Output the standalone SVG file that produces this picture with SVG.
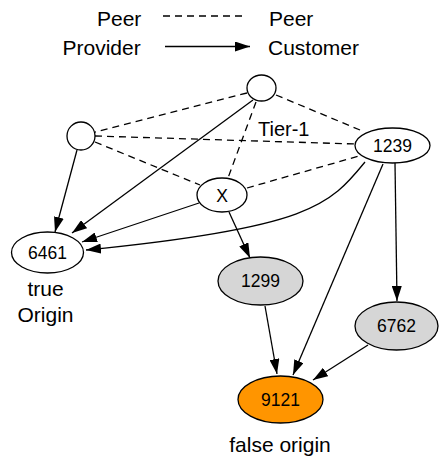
<svg xmlns="http://www.w3.org/2000/svg" width="439" height="460" viewBox="0 0 439 460">
<defs>
<marker id="arr" markerUnits="userSpaceOnUse" markerWidth="15" markerHeight="10" refX="15" refY="5" orient="auto">
<path d="M0,0 L15,5 L0,10 z" fill="#000"/>
</marker>
<style>
text{font-family:"Liberation Sans",Arial,sans-serif;fill:#000}
.lbl{font-size:21px}
.nl{font-size:17.5px;text-anchor:middle}
.node{stroke:#000;stroke-width:1.3}
.peer{stroke:#000;stroke-width:1.3;stroke-dasharray:7,5;fill:none}
.pc{stroke:#000;stroke-width:1.3;fill:none;marker-end:url(#arr)}
</style>
</defs>
<rect width="439" height="460" fill="#fff"/>
<g id="legend">
<text class="lbl" x="97" y="25.5">Peer</text>
<line class="peer" x1="163" y1="16" x2="243" y2="16"/>
<text class="lbl" x="269" y="25.5">Peer</text>
<text class="lbl" x="62.5" y="55">Provider</text>
<line class="pc" x1="165" y1="46.5" x2="250" y2="46.5"/>
<text class="lbl" x="268" y="55">Customer</text>
</g>
<g id="connectors">
<line class="peer" x1="247" y1="93" x2="95" y2="132"/>
<line class="peer" x1="276" y1="95" x2="360" y2="130"/>
<line class="peer" x1="95" y1="136" x2="355" y2="144"/>
<line class="peer" x1="95" y1="142" x2="200" y2="185"/>
<line class="peer" x1="256" y1="102" x2="228" y2="178"/>
<line class="peer" x1="247" y1="188" x2="359" y2="156"/>
<line class="pc" x1="77" y1="150" x2="55" y2="232"/>
<line class="pc" x1="253" y1="100" x2="72" y2="233"/>
<line class="pc" x1="199" y1="203" x2="82" y2="242"/>
<path class="pc" d="M365,162 C330,205 310,228 86,250"/>
<line class="pc" x1="229" y1="212" x2="250" y2="258"/>
<line class="pc" x1="383" y1="164" x2="293" y2="375"/>
<line class="pc" x1="395" y1="163" x2="397" y2="301"/>
<line class="pc" x1="265" y1="306" x2="277" y2="374"/>
<line class="pc" x1="368" y1="345" x2="313" y2="380"/>
</g>
<g id="tier1-top"><ellipse class="node" cx="261.5" cy="88" rx="14.5" ry="13" fill="#fff"/></g>
<g id="tier1-left"><ellipse class="node" cx="81" cy="136" rx="14" ry="14" fill="#fff"/></g>
<g id="n1239"><ellipse class="node" cx="392.5" cy="145.5" rx="37.5" ry="17.5" fill="#fff"/><text class="nl" x="392.5" y="151.5">1239</text></g>
<g id="nX"><ellipse class="node" cx="222" cy="195" rx="25" ry="17" fill="#fff"/><text class="nl" x="222" y="201.5">X</text></g>
<g id="n6461"><ellipse class="node" cx="47.5" cy="252.5" rx="36" ry="20.5" fill="#fff"/><text class="nl" x="47.5" y="258.5">6461</text></g>
<g id="n1299"><ellipse class="node" cx="260.5" cy="281" rx="42.5" ry="24" fill="#d6d6d6"/><text class="nl" x="260.5" y="287">1299</text></g>
<g id="n6762"><ellipse class="node" cx="396.5" cy="326" rx="41.5" ry="24" fill="#d6d6d6"/><text class="nl" x="396.5" y="332">6762</text></g>
<g id="n9121"><ellipse class="node" cx="280.5" cy="399.5" rx="42.5" ry="23.5" fill="#ff9500"/><text class="nl" x="280.5" y="405.5">9121</text></g>
<g id="labels">
<text x="258" y="136" style="font-size:20px">Tier-1</text>
<text class="lbl" x="45.5" y="296" text-anchor="middle">true</text>
<text class="lbl" x="45.5" y="322" text-anchor="middle">Origin</text>
<text class="lbl" x="280" y="452" text-anchor="middle">false origin</text>
</g>
</svg>
